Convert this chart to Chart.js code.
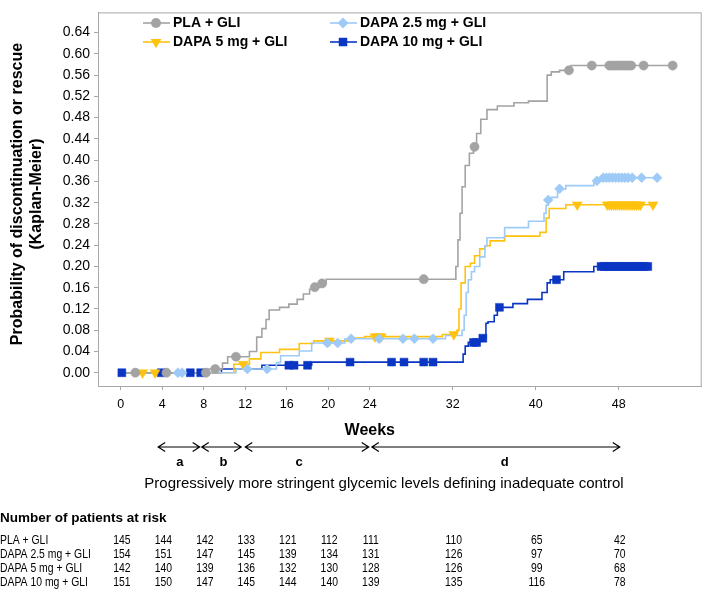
<!DOCTYPE html>
<html>
<head>
<meta charset="utf-8">
<script src="https://cdn.jsdelivr.net/npm/chart.js@4.4.0/dist/chart.umd.min.js"></script>
<style>
  html, body { margin: 0; padding: 0; background: #fff; }
  canvas { display: block; }
</style>
</head>
<body>
<canvas id="km" width="708" height="592"></canvas>
<script>
'use strict';
/* Kaplan-Meier : probabilité d'arrêt ou de rescue, 4 bras */

// ── Données ─────────────────────────────────────────────────
const groupNames = ['PLA + GLI', 'DAPA 2.5 mg + GLI', 'DAPA 5 mg + GLI', 'DAPA 10 mg + GLI'];

const xTicks = [0, 4, 8, 12, 16, 20, 24, 32, 40, 48];
const yTicks = [0, 0.04, 0.08, 0.12, 0.16, 0.20, 0.24, 0.28, 0.32, 0.36, 0.40, 0.44, 0.48, 0.52, 0.56, 0.60, 0.64];

// marches [semaine, probabilité]
const plaSteps = [[0, 0], [8.3, 0.007], [9.8, 0.018], [10.3, 0.03], [12.4, 0.04], [13.1, 0.067], [13.6, 0.083],
  [14.0, 0.10], [14.3, 0.118], [15.3, 0.123], [16.2, 0.129], [17.0, 0.138], [17.6, 0.148], [18.2, 0.157],
  [18.6, 0.161], [19.2, 0.168], [19.8, 0.176], [32.3, 0.20], [32.5, 0.25], [32.7, 0.30], [32.9, 0.35],
  [33.2, 0.39], [33.6, 0.413], [34.0, 0.425], [34.3, 0.45], [34.7, 0.477], [35.3, 0.495], [36.3, 0.502],
  [37.9, 0.508], [39.3, 0.511], [41.1, 0.56], [41.5, 0.566], [42.3, 0.569], [43.4, 0.578], [53.2, 0.578]];
const d25Steps = [[0, 0], [11.1, 0.007], [15.0, 0.019], [15.4, 0.032], [17.2, 0.041], [18.4, 0.056], [21.6, 0.064],
  [31.3, 0.07], [32.9, 0.08], [33.1, 0.108], [33.3, 0.151], [33.5, 0.175], [33.8, 0.19], [34.1, 0.20],
  [34.6, 0.218], [35.1, 0.239], [35.3, 0.254], [37.0, 0.273], [39.3, 0.285], [40.8, 0.30], [41.0, 0.315],
  [41.2, 0.325], [41.5, 0.33], [42.1, 0.346], [42.9, 0.352], [45.6, 0.361], [46.3, 0.367], [51.7, 0.367]];
const d5Steps = [[0, 0], [10.9, 0.016], [12.4, 0.026], [13.5, 0.038], [15.3, 0.044], [17.2, 0.055], [18.6, 0.06],
  [22.0, 0.065], [23.5, 0.068], [31.0, 0.072], [32.4, 0.08], [32.6, 0.12], [32.8, 0.169], [33.2, 0.20],
  [33.7, 0.206], [34.1, 0.22], [34.6, 0.233], [35.1, 0.239], [35.6, 0.248], [37.0, 0.257], [40.4, 0.264],
  [41.0, 0.291], [41.3, 0.309], [42.9, 0.316], [51.5, 0.316]];
const d10Steps = [[0, 0], [9.7, 0.007], [13.6, 0.014], [18.4, 0.02], [33.0, 0.035], [33.2, 0.05], [33.5, 0.057],
  [34.6, 0.065], [35.2, 0.093], [35.4, 0.096], [36.0, 0.108], [36.3, 0.123], [37.8, 0.13], [39.2, 0.138],
  [40.6, 0.151], [41.1, 0.169], [41.4, 0.175], [42.7, 0.19], [45.6, 0.20], [50.8, 0.20]];

// semaines des censures
const plaCensor = [1.4, 4.4, 8.2, 9.1, 11.1, 18.7, 19.4, 29.2, 34.1, 43.2, 45.4, 47.1, 47.4, 47.7, 48.0, 48.3,
  48.6, 48.9, 49.2, 50.4, 53.2];
const d25Censor = [5.5, 5.9, 12.2, 14.1, 19.9, 20.9, 22.2, 24.9, 27.2, 28.3, 30.1, 41.2, 42.3, 45.9, 46.5, 46.8,
  47.1, 47.4, 47.7, 48.0, 48.3, 48.6, 48.9, 49.3, 50.2, 51.7];
const d5Censor = [2.1, 3.3, 11.8, 20.1, 24.5, 24.8, 25.1, 32.1, 44.0, 46.9, 47.1, 47.3, 47.5, 47.7, 47.9, 48.1,
  48.3, 48.5, 48.7, 48.9, 49.1, 49.3, 49.5, 49.7, 49.9, 50.1, 51.3];
const d10Censor = [0.1, 3.9, 6.7, 7.7, 16.2, 16.7, 18.0, 22.1, 26.1, 27.3, 29.2, 30.1, 34.0, 34.3, 34.9, 36.5,
  42.0, 46.3, 46.6, 46.9, 47.2, 47.5, 47.8, 48.1, 48.4, 48.7, 49.0, 49.3, 49.6, 49.9, 50.2, 50.5, 50.8];

// patients à risque
const riskWeeks = [0, 4, 8, 12, 16, 20, 24, 32, 40, 48];
const riskPla = [145, 144, 142, 133, 121, 112, 111, 110, 65, 42];
const riskD25 = [154, 151, 147, 145, 139, 134, 131, 126, 97, 70];
const riskD5  = [142, 140, 139, 136, 132, 130, 128, 126, 99, 68];
const riskD10 = [151, 150, 147, 145, 144, 140, 139, 135, 116, 78];

// périodes a-d
const periodLabels = ['a', 'b', 'c', 'd'];
const periodStart  = [3.6, 7.8, 12.0, 24.2];
const periodEnd    = [7.6, 11.6, 23.9, 48.1];
const periodMid    = [5.7, 9.9, 17.2, 37.0];

// ── Styles ──────────────────────────────────────────────────
const FONT = "'Liberation Sans', Arial, sans-serif";
const AXIS = '#a8a8a8';

const groups = [
  { steps: plaSteps, censor: plaCensor, risk: riskPla, color: '#a3a3a3', style: 'circle',   r: 4.6, rot: 0 },
  { steps: d25Steps, censor: d25Censor, risk: riskD25, color: '#9dcaf6', style: 'rectRot',  r: 5,   rot: 0 },
  { steps: d5Steps,  censor: d5Censor,  risk: riskD5,  color: '#ffc20e', style: 'triangle', r: 5.8, rot: 180 },
  { steps: d10Steps, censor: d10Censor, risk: riskD10, color: '#0b36c4', style: 'rect',     r: 5.6, rot: 0 }
];

function kmAt(steps, t) {
  let y = 0;
  for (const [x, v] of steps) { if (x <= t) y = v; }
  return y;
}

// jeux de données : censures d'abord (dessinées au-dessus), puis courbes
const datasets = [];
groups.forEach((g, i) => {
  datasets.push({
    label: groupNames[i] + ' (censure)',
    data: g.censor.map(t => ({ x: t, y: kmAt(g.steps, t) })),
    showLine: false,
    pointStyle: g.style,
    pointRotation: g.rot,
    pointRadius: g.r,
    pointBackgroundColor: g.color,
    pointBorderColor: g.color,
    pointBorderWidth: 0.5
  });
});
groups.forEach((g, i) => {
  datasets.push({
    label: groupNames[i],
    data: g.steps.map(([x, y]) => ({ x, y })),
    stepped: 'before',
    borderColor: g.color,
    borderWidth: 1.6,
    pointRadius: 0,
    fill: false
  });
});

function drawMarker(ctx, style, x, y, r, color) {
  ctx.fillStyle = color;
  ctx.beginPath();
  if (style === 'circle') ctx.arc(x, y, r, 0, Math.PI * 2);
  else if (style === 'rectRot') { ctx.moveTo(x, y - r); ctx.lineTo(x + r, y); ctx.lineTo(x, y + r); ctx.lineTo(x - r, y); }
  else if (style === 'triangle') { ctx.moveTo(x - r * 0.866, y - r * 0.5); ctx.lineTo(x + r * 0.866, y - r * 0.5); ctx.lineTo(x, y + r); }
  else { const s = r * Math.SQRT1_2; ctx.rect(x - s, y - s, 2 * s, 2 * s); }
  ctx.closePath();
  ctx.fill();
}

function arrowHead(ctx, x, y, dir) {
  ctx.moveTo(x + dir * 7, y - 4.5);
  ctx.lineTo(x, y);
  ctx.lineTo(x + dir * 7, y + 4.5);
}

// texte resserré (l'original utilise une police étroite)
function narrowText(ctx, text, x, y, align) {
  ctx.save();
  ctx.translate(x, y);
  ctx.scale(0.8, 1);
  ctx.textAlign = align;
  ctx.fillText(text, 0, 0);
  ctx.restore();
}

const decorations = {
  id: 'decorations',
  beforeDatasetsDraw(chart) {
    const { ctx, chartArea: a } = chart;
    ctx.save();
    ctx.strokeStyle = AXIS;
    ctx.lineWidth = 1;
    ctx.strokeRect(a.left + 0.5, a.top + 0.5, a.right - a.left - 1, a.bottom - a.top);
    ctx.restore();
  },
  afterDraw(chart) {
    const { ctx } = chart;
    const xs = chart.scales.x;
    const px = v => xs.getPixelForValue(v);
    ctx.save();
    ctx.fillStyle = '#000';
    ctx.textBaseline = 'middle';

    // légende
    const legendPos = [[143, 23], [330, 23], [143, 42], [330, 42]];
    ctx.font = 'bold 14px ' + FONT;
    ctx.textAlign = 'left';
    groups.forEach((g, i) => {
      const [lx, ly] = legendPos[i];
      ctx.strokeStyle = g.color;
      ctx.lineWidth = 1.6;
      ctx.beginPath(); ctx.moveTo(lx, ly); ctx.lineTo(lx + 27, ly); ctx.stroke();
      drawMarker(ctx, g.style, lx + 13, ly, g.r + 0.4, g.color);
      ctx.fillStyle = '#000';
      ctx.fillText(groupNames[i], lx + 30, ly + 0.5);
    });

    // titre de l'axe Y
    ctx.textAlign = 'center';
    ctx.font = 'bold 16px ' + FONT;
    ctx.save(); ctx.translate(18, 194); ctx.rotate(-Math.PI / 2);
    ctx.fillText('Probability of discontinuation or rescue', 0, 0);
    ctx.restore();
    ctx.save(); ctx.translate(37, 194); ctx.rotate(-Math.PI / 2);
    ctx.fillText('(Kaplan-Meier)', 0, 0);
    ctx.restore();

    // titre de l'axe X
    ctx.font = 'bold 16px ' + FONT;
    ctx.fillText('Weeks', px(24), 431);

    // périodes
    ctx.strokeStyle = '#000';
    ctx.lineWidth = 1.2;
    ctx.font = 'bold 13px ' + FONT;
    periodLabels.forEach((lab, i) => {
      const x1 = px(periodStart[i]), x2 = px(periodEnd[i]), y = 447;
      ctx.beginPath();
      ctx.moveTo(x1, y); ctx.lineTo(x2, y);
      arrowHead(ctx, x1, y, 1);
      arrowHead(ctx, x2, y, -1);
      ctx.stroke();
      ctx.fillText(lab, px(periodMid[i]), 462);
    });
    ctx.font = '15px ' + FONT;
    ctx.fillText('Progressively more stringent glycemic levels defining inadequate control', 384, 484);

    // patients à risque
    ctx.textAlign = 'left';
    ctx.font = 'bold 13.5px ' + FONT;
    ctx.fillText('Number of patients at risk', 0, 518);
    ctx.font = '13px ' + FONT;
    groups.forEach((g, i) => {
      const y = 540.5 + i * 13.9;
      narrowText(ctx, groupNames[i], 0, y, 'left');
      g.risk.forEach((n, j) => narrowText(ctx, String(n), px(riskWeeks[j]) + 1, y, 'center'));
    });
    ctx.restore();
  }
};

new Chart(document.getElementById('km').getContext('2d'), {
  type: 'line',
  data: { datasets },
  plugins: [decorations],
  options: {
    responsive: false,
    animation: false,
    events: [],
    layout: { padding: { left: 0, top: 2, right: 3, bottom: 176 } },
    elements: { line: { tension: 0 } },
    plugins: { legend: { display: false }, tooltip: { enabled: false } },
    scales: {
      x: {
        type: 'linear',
        min: -2.2,
        max: 56,
        afterBuildTicks: s => { s.ticks = xTicks.map(v => ({ value: v })); },
        afterFit: s => { s.height = 30; },
        grid: { drawOnChartArea: false, drawTicks: true, tickLength: 4, color: AXIS },
        border: { display: true, color: AXIS, width: 1 },
        ticks: { color: '#000', padding: 7, maxRotation: 0, autoSkip: false, font: { family: FONT, size: 12.5 } }
      },
      y: {
        type: 'linear',
        min: -0.025,
        max: 0.678,
        afterBuildTicks: s => { s.ticks = yTicks.map(v => ({ value: v })); },
        afterFit: s => { s.width = 98; },
        grid: { drawOnChartArea: false, drawTicks: true, tickLength: 4, color: AXIS },
        border: { display: true, color: AXIS, width: 1 },
        ticks: { color: '#000', padding: 4, font: { family: FONT, size: 14 }, callback: v => v.toFixed(2) }
      }
    }
  }
});
</script>
</body>
</html>
